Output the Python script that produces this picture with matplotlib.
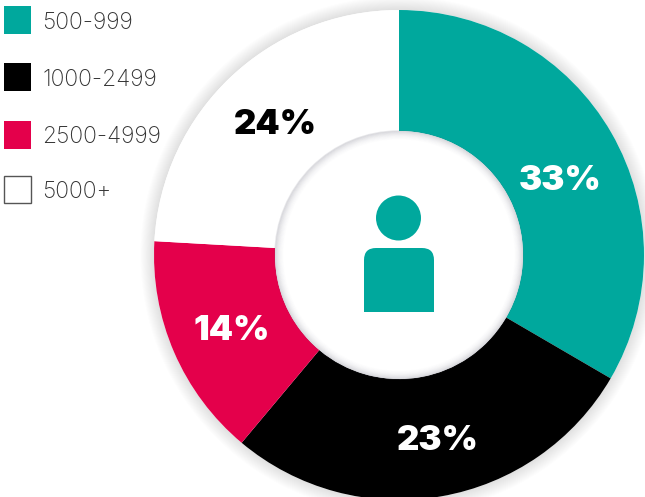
import matplotlib
matplotlib.use("Agg")
import matplotlib.pyplot as plt
from matplotlib.patches import Circle, Rectangle, PathPatch
from matplotlib.path import Path

categories = ["500-999", "1000-2499", "2500-4999", "5000+"]
slice_shares = [33.4, 27.7, 14.8, 24.1]
value_labels = ["33%", "23%", "14%", "24%"]
colors = ["#00A89D", "#000000", "#E4004B", "#FFFFFF"]
label_colors = ["white", "white", "white", "black"]
label_pos = [(560, 180.5), (438, 441.5), (232, 331.5), (275, 125.5)]
legend_y = [6, 63, 121, 175]
legend_text_y = [23, 80, 137, 192]

W, H = 645, 497
fig = plt.figure(figsize=(W / 100, H / 100), dpi=100)
ax = fig.add_axes([0, 0, 1, 1])
ax.set_xlim(0, W)
ax.set_ylim(0, H)
ax.axis("off")


def Y(y):
    return H - y


cx, cy, R, r = 399, Y(255), 245, 124

# Soft outer shadow
for k in range(15, 0, -1):
    ax.add_patch(Circle((cx, cy), R + k * 0.9, fc="#555555", ec="none",
                        alpha=0.012, zorder=1))
ax.add_patch(Circle((cx, cy), R, fc="white", ec="none", zorder=1.5))

wedges, _ = ax.pie(slice_shares, colors=colors, startangle=90, counterclock=False,
                   center=(cx, cy), radius=R, frame=False,
                   wedgeprops=dict(width=R - r, linewidth=0))
for w in wedges:
    w.set_zorder(2)
ax.set_xlim(0, W)
ax.set_ylim(0, H)
ax.set_aspect("auto")

# Hole with inner shadow
ax.add_patch(Circle((cx, cy), r, fc="white", ec="none", zorder=3))
for k in range(12):
    ax.add_patch(Circle((cx, cy), r - k * 0.8, fc="none", ec="#707080", lw=1.1,
                        alpha=0.16 * (1 - k / 12) ** 2, zorder=3.1))

# Person icon
teal = colors[0]
ax.add_patch(Circle((398.5, Y(218)), 22.5, fc=teal, ec="none", zorder=4))
x0, x1, top, bot, c = 364, 434, Y(248), Y(312), 12
verts = [(x0, bot), (x0, top - c), (x0, top), (x0 + c, top), (x1 - c, top),
         (x1, top), (x1, top - c), (x1, bot), (x0, bot)]
codes = [Path.MOVETO, Path.LINETO, Path.CURVE3, Path.CURVE3, Path.LINETO,
         Path.CURVE3, Path.CURVE3, Path.LINETO, Path.CLOSEPOLY]
ax.add_patch(PathPatch(Path(verts, codes), fc=teal, ec="none", zorder=4))

# Value labels
for txt, col, (x, y) in zip(value_labels, label_colors, label_pos):
    ax.text(x, Y(y), txt, color=col, fontsize=25, fontweight=900,
            family="Inter", ha="center", va="center", zorder=5)

# Legend
for name, col, y, ty in zip(categories, colors, legend_y, legend_text_y):
    edge = "#555555" if col == "#FFFFFF" else "none"
    ax.add_patch(Rectangle((3.5, Y(y + 28)), 27, 27 if col == "#FFFFFF" else 28,
                           fc=col, ec=edge, lw=1, zorder=5))
    ax.text(42.5, Y(ty), name, color="#333333", fontsize=16.5, family="Inter",
            fontweight="light", ha="left", va="center", zorder=5)

fig.savefig("out.png", dpi=100)
